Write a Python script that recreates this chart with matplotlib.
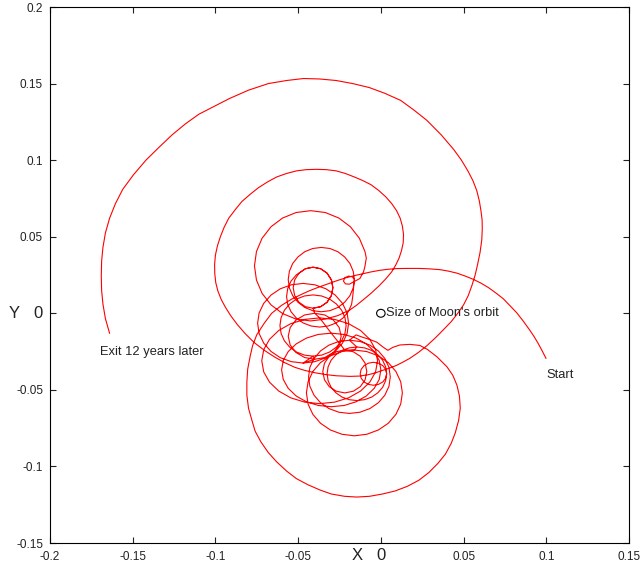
import matplotlib
matplotlib.use("Agg")
import matplotlib.pyplot as plt
from matplotlib.patches import Circle

# positions in AU, rotating frame centred on the Earth
start_x = [0.0998, 0.0975, 0.095, 0.0925, 0.090, 0.086, 0.082, 0.078, 0.074, 0.0695, 0.065, 0.0605,
           0.0558, 0.051, 0.046, 0.041, 0.0357, 0.0295, 0.023, 0.016, 0.0095, 0.004, -0.001, -0.006,
           -0.0107, -0.016, -0.021, -0.026, -0.031, -0.037, -0.043, -0.0485, -0.054, -0.060]
start_y = [-0.0294, -0.0245, -0.0195, -0.015, -0.011, -0.005, 0.0005, 0.005, 0.0095, 0.0133, 0.0168,
           0.0197, 0.0222, 0.0243, 0.0262, 0.0275, 0.0285, 0.029, 0.0293, 0.0293, 0.0292, 0.0287,
           0.028, 0.027, 0.0259, 0.0246, 0.0232, 0.0215, 0.0196, 0.0173, 0.0148, 0.0121, 0.0092, 0.0052]

low_loop_x = [-0.066, -0.0705, -0.075, -0.0775, -0.079, -0.0805, -0.081, -0.081, -0.080, -0.078, -0.076,
              -0.0725, -0.068, -0.063, -0.057, -0.051, -0.044, -0.037, -0.030, -0.022, -0.0145, -0.0068,
              0.001, 0.0087, 0.016, 0.023, 0.029, 0.0345, 0.039, 0.0425, 0.045, 0.047, 0.048, 0.0475,
              0.046, 0.0435, 0.040, 0.034, 0.028, 0.0236, 0.0175, 0.0115, 0.0073, 0.0042, 0.001,
              -0.0024, -0.0065, -0.0109, -0.015]
low_loop_y = [0.000, -0.0065, -0.014, -0.021, -0.028, -0.0365, -0.045, -0.0535, -0.062, -0.0697, -0.077,
              -0.084, -0.091, -0.097, -0.103, -0.108, -0.112, -0.1153, -0.118, -0.1195, -0.120, -0.1195,
              -0.118, -0.116, -0.113, -0.109, -0.104, -0.098, -0.092, -0.085, -0.078, -0.070, -0.062,
              -0.054, -0.047, -0.0405, -0.035, -0.0285, -0.0235, -0.021, -0.0203, -0.0207, -0.0222,
              -0.0242, -0.0218, -0.0189, -0.0172, -0.0157, -0.0141]

# lower cluster
loop_k3_x = [-0.019, -0.0254, -0.0314, -0.0365, -0.0404, -0.0429, -0.0437, -0.0429, -0.0404, -0.0365,
             -0.0314, -0.0254, -0.019, -0.0126, -0.0066, -0.0015, 0.0024, 0.0049, 0.0057, 0.0049,
             0.0024, -0.0015, -0.0066, -0.0126, -0.019]
loop_k3_y = [-0.0176, -0.0184, -0.0208, -0.0246, -0.0295, -0.0353, -0.0415, -0.0477, -0.0535, -0.0584,
             -0.0622, -0.0646, -0.0654, -0.0646, -0.0622, -0.0584, -0.0535, -0.0477, -0.0415, -0.0353,
             -0.0295, -0.0246, -0.0208, -0.0184, -0.0176]

loop_k2_x = [-0.0145, -0.0192, -0.0235, -0.0272, -0.0301, -0.0319, -0.0325, -0.0319, -0.0301, -0.0272,
             -0.0235, -0.0192, -0.0145, -0.0098, -0.0055, -0.0018, 0.0011, 0.0029, 0.0035,
             0.0029, 0.0012, -0.0014, -0.0045, -0.0076, -0.0102, -0.0119, -0.0125, -0.0119, -0.0102,
             -0.0076, -0.0045, -0.0014, 0.0012, 0.0029, 0.0035,
             0.0029, 0.0011, -0.0018, -0.0055, -0.0098, -0.0145]
loop_k2_y = [-0.022, -0.0226, -0.0243, -0.0271, -0.0307, -0.035, -0.0395, -0.044, -0.0483, -0.0519,
             -0.0547, -0.0564, -0.057, -0.0564, -0.0547, -0.0519, -0.0483, -0.044, -0.0395,
             -0.0366, -0.0342, -0.0326, -0.032, -0.0326, -0.0342, -0.0366, -0.0395, -0.0424, -0.0448,
             -0.0464, -0.047, -0.0464, -0.0448, -0.0424, -0.0395,
             -0.035, -0.0307, -0.0271, -0.0243, -0.0226, -0.022]

loop_m_x = [-0.016, -0.0235, -0.0305, -0.0365, -0.0411, -0.044, -0.045, -0.044, -0.0411, -0.0365, -0.0305,
            -0.0235, -0.016, -0.0085, -0.0015, 0.0045, 0.0091, 0.012, 0.013, 0.012, 0.0091, 0.0045,
            -0.0015, -0.0085, -0.016]
loop_m_y = [-0.024, -0.025, -0.0278, -0.0322, -0.038, -0.0447, -0.052, -0.0593, -0.066, -0.0718, -0.0762,
            -0.079, -0.080, -0.079, -0.0762, -0.0718, -0.066, -0.0593, -0.052, -0.0447, -0.038, -0.0322,
            -0.0278, -0.025, -0.024]

loop_k1_x = [-0.0218, -0.0269, -0.0312, -0.0341, -0.0351, -0.0341, -0.0312, -0.0269, -0.0218, -0.0167,
             -0.0124, -0.0095, -0.0085, -0.0095, -0.0124, -0.0167, -0.0218]
loop_k1_y = [-0.024, -0.0251, -0.0281, -0.0326, -0.038, -0.0434, -0.0479, -0.0509, -0.052, -0.0509,
             -0.0479, -0.0434, -0.038, -0.0326, -0.0281, -0.0251, -0.024]

loop_l_x = [-0.030, -0.0378, -0.045, -0.0512, -0.056, -0.059, -0.060, -0.059, -0.056, -0.0512, -0.045,
            -0.0378, -0.030, -0.0222, -0.015, -0.0088, -0.004, -0.001, 0.000, -0.001, -0.004, -0.0088,
            -0.015, -0.0222, -0.030]
loop_l_y = [-0.013, -0.0138, -0.0162, -0.020, -0.025, -0.0308, -0.037, -0.0432, -0.049, -0.054, -0.0578,
            -0.0602, -0.061, -0.0602, -0.0578, -0.054, -0.049, -0.0432, -0.037, -0.0308, -0.025, -0.020,
            -0.0162, -0.0138, -0.013]

loop_p_x = [-0.037, -0.0461, -0.0545, -0.0617, -0.0673, -0.0708, -0.072, -0.0708, -0.0673, -0.0617,
            -0.0545, -0.0461, -0.037, -0.0279, -0.0195, -0.0123, -0.0067, -0.0032, -0.002, -0.0032,
            -0.0067, -0.0123, -0.0195, -0.0279, -0.037]
loop_p_y = [-0.003, -0.004, -0.0068, -0.0112, -0.017, -0.0237, -0.031, -0.0383, -0.045, -0.0508,
            -0.0552, -0.058, -0.059, -0.058, -0.0552, -0.0508, -0.045, -0.0383, -0.031, -0.0237,
            -0.017, -0.0112, -0.0068, -0.004, -0.003]

# middle cluster
loop_t_left_x = [-0.040, -0.0461, -0.0513, -0.0548, -0.056, -0.0548, -0.0513, -0.0461, -0.040]
loop_t_left_y = [0.000, -0.0011, -0.0044, -0.0093, -0.015, -0.0207, -0.0256, -0.0289, -0.030]

loop_r_x = [-0.041, -0.0358, -0.031, -0.0269, -0.0237, -0.0217, -0.021, -0.0217, -0.0237, -0.0269,
            -0.031, -0.0358, -0.041, -0.0462, -0.051, -0.0551, -0.0583, -0.0603, -0.061, -0.0603,
            -0.0583, -0.0551, -0.051, -0.0462, -0.041]
loop_r_y = [-0.028, -0.0273, -0.0253, -0.0221, -0.018, -0.0132, -0.008, -0.0028, 0.002, 0.0061, 0.0093,
            0.0113, 0.012, 0.0113, 0.0093, 0.0061, 0.002, -0.0028, -0.008, -0.0132, -0.018, -0.0221,
            -0.0253, -0.0273, -0.028]

loop_q_x = [-0.047, -0.0399, -0.0332, -0.0276, -0.0232, -0.0204, -0.0195, -0.0204, -0.0232, -0.0276,
            -0.0332, -0.0399, -0.047, -0.0541, -0.0608, -0.0664, -0.0708, -0.0736, -0.0745, -0.0736,
            -0.0708, -0.0664, -0.0608, -0.0541, -0.047]
loop_q_y = [-0.0325, -0.0316, -0.029, -0.0249, -0.0195, -0.0132, -0.0065, 0.0002, 0.0065, 0.0119, 0.016,
            0.0186, 0.0195, 0.0186, 0.016, 0.0119, 0.0065, 0.0002, -0.0065, -0.0132, -0.0195, -0.0249,
            -0.029, -0.0316, -0.0325]

loop_t_right_x = [-0.040, -0.0339, -0.0287, -0.0252, -0.024, -0.0252, -0.0287, -0.0339, -0.040]
loop_t_right_y = [-0.030, -0.0289, -0.0256, -0.0207, -0.015, -0.0093, -0.0044, -0.0011, 0.000]

# upper cluster
loop_g_x = [-0.041, -0.0364, -0.0325, -0.0299, -0.029, -0.0299, -0.0325, -0.0364, -0.041, -0.0456,
            -0.0495, -0.0521, -0.053, -0.0521, -0.0495, -0.0456, -0.041, -0.0364, -0.0325, -0.0299,
            -0.029, -0.0299, -0.0325, -0.0364, -0.041, -0.0456, -0.0495]
loop_g_y = [0.0033, 0.0043, 0.0072, 0.0116, 0.0167, 0.0218, 0.0262, 0.0291, 0.0301, 0.0291, 0.0262,
            0.0218, 0.0167, 0.0116, 0.0072, 0.0043, 0.0033, 0.0043, 0.0072, 0.0116, 0.0167, 0.0218,
            0.0262, 0.0291, 0.0301, 0.0291, 0.0262]

loop_u_x = [-0.0511, -0.0543, -0.0563, -0.057, -0.0563, -0.0543, -0.0511, -0.047, -0.0422, -0.037,
            -0.0318, -0.027, -0.0229, -0.0197, -0.0177, -0.017, -0.0165]
loop_u_y = [0.0251, 0.021, 0.0162, 0.011, 0.0058, 0.001, -0.0031, -0.0063, -0.0083, -0.009, -0.0083,
            -0.0063, -0.0031, 0.001, 0.0058, 0.011, 0.0165]

loop_f_x = [-0.016, -0.0167, -0.0187, -0.0219, -0.026, -0.0308, -0.036, -0.0412, -0.046, -0.0501,
            -0.0533, -0.0553, -0.056, -0.0553, -0.0533, -0.0501, -0.046, -0.0412, -0.036, -0.0308,
            -0.026, -0.0219, -0.0187, -0.0167, -0.016]
loop_f_y = [0.022, 0.0274, 0.0325, 0.0368, 0.0402, 0.0423, 0.043, 0.0423, 0.0402, 0.0368, 0.0325,
            0.0274, 0.022, 0.0166, 0.0115, 0.0072, 0.0038, 0.0017, 0.001, 0.0017, 0.0038, 0.0072,
            0.0115, 0.0166, 0.022]

curl_x = [-0.0172, -0.0195, -0.0218, -0.0226, -0.0214, -0.019, -0.0167, -0.0127, -0.0105, -0.0097,
          -0.0088]
curl_y = [0.0238, 0.0243, 0.0232, 0.021, 0.0192, 0.019, 0.0204, 0.0227, 0.027, 0.0302, 0.036]

loop_e_x = [-0.0096, -0.013, -0.0184, -0.0254, -0.0336, -0.0424, -0.0512, -0.0594, -0.0664, -0.0718,
            -0.0752, -0.0764, -0.0752, -0.0718, -0.0664, -0.0594, -0.0512, -0.0424, -0.0336, -0.026]
loop_e_y = [0.0403, 0.049, 0.0565, 0.0622, 0.0658, 0.067, 0.0658, 0.0622, 0.0565, 0.049, 0.0403, 0.031,
            0.0217, 0.013, 0.0055, -0.0002, -0.0038, -0.005, -0.0038, -0.0015]

# wide loop round the cluster, then out
mid_loop_x = [-0.019, -0.015, -0.011, -0.006, -0.001, 0.003, 0.0065, 0.009, 0.011, 0.0125, 0.0135,
              0.0137, 0.013, 0.0117, 0.0095, 0.0065, 0.003, -0.0013, -0.006, -0.011, -0.016, -0.0215,
              -0.027, -0.033, -0.039, -0.045, -0.051, -0.057, -0.063, -0.0685, -0.074, -0.079, -0.084,
              -0.088, -0.092, -0.0948, -0.097, -0.0988, -0.100, -0.1005, -0.1004, -0.0998, -0.0985,
              -0.0965, -0.094, -0.0908, -0.0868, -0.082, -0.0765, -0.070, -0.064, -0.058, -0.052,
              -0.046, -0.040, -0.0335, -0.027, -0.0187, -0.013, -0.008, -0.0035, 0.0012, 0.0055,
              0.0095, 0.0135, 0.0175, 0.0228, 0.028, 0.033, 0.0375, 0.0425, 0.0465, 0.050, 0.0528,
              0.055, 0.057, 0.0585, 0.060, 0.061]
mid_loop_y = [0.002, 0.005, 0.0085, 0.013, 0.018, 0.0225, 0.027, 0.0315, 0.036, 0.041, 0.046, 0.0515,
              0.057, 0.062, 0.067, 0.0717, 0.076, 0.0802, 0.084, 0.0867, 0.089, 0.0913, 0.093, 0.0938,
              0.094, 0.0938, 0.093, 0.0913, 0.089, 0.0858, 0.082, 0.0777, 0.073, 0.0677, 0.062, 0.056,
              0.050, 0.044, 0.038, 0.032, 0.026, 0.020, 0.0145, 0.009, 0.004, -0.0015, -0.0073,
              -0.0133, -0.0192, -0.0245, -0.0287, -0.0323, -0.0353, -0.0373, -0.0388, -0.040, -0.0408,
              -0.0412, -0.041, -0.0402, -0.039, -0.0372, -0.0357, -0.034, -0.0318, -0.0294, -0.0255,
              -0.021, -0.016, -0.0111, -0.0055, 0.000, 0.0055, 0.0115, 0.018, 0.025, 0.032, 0.040, 0.048]

exit_x = [0.0613, 0.0612, 0.0605, 0.0595, 0.058, 0.0557, 0.0526, 0.0487, 0.044, 0.0365, 0.0278, 0.020,
          0.012, 0.0025, -0.007, -0.017, -0.027, -0.037, -0.0467, -0.057, -0.068, -0.080, -0.0914,
          -0.101, -0.110, -0.118, -0.126, -0.134, -0.142, -0.1495, -0.156, -0.1605, -0.164, -0.1665,
          -0.168, -0.1688, -0.169, -0.1688, -0.168, -0.1665, -0.164]
exit_y = [0.055, 0.061, 0.067, 0.0735, 0.080, 0.0865, 0.093, 0.100, 0.107, 0.1165, 0.126, 0.1327,
          0.139, 0.1436, 0.1474, 0.150, 0.152, 0.153, 0.1533, 0.152, 0.150, 0.1457, 0.1403, 0.135,
          0.130, 0.1238, 0.1167, 0.1085, 0.100, 0.0905, 0.081, 0.0715, 0.062, 0.0525, 0.043, 0.034,
          0.0244, 0.015, 0.006, -0.0035, -0.013]

pieces = [(start_x, start_y), (low_loop_x, low_loop_y), (loop_k3_x, loop_k3_y), (loop_k2_x, loop_k2_y),
          (loop_m_x, loop_m_y), (loop_k1_x, loop_k1_y), (loop_l_x, loop_l_y), (loop_p_x, loop_p_y),
          (loop_t_left_x, loop_t_left_y), (loop_r_x, loop_r_y), (loop_q_x, loop_q_y),
          (loop_t_right_x, loop_t_right_y), (loop_g_x, loop_g_y), (loop_u_x, loop_u_y),
          (loop_f_x, loop_f_y), (curl_x, curl_y), (loop_e_x, loop_e_y),
          (mid_loop_x, mid_loop_y), (exit_x, exit_y)]
traj_x = []
traj_y = []
for px, py in pieces:
    traj_x += px
    traj_y += py

moon_orbit = 0.00257  # AU
xticks = [-0.2, -0.15, -0.1, -0.05, 0, 0.05, 0.1, 0.15]
xlabels = ['-0.2', '-0.15', '-0.1', '-0.05', '', '0.05', '0.1', '0.15']
yticks = [-0.15, -0.1, -0.05, 0, 0.05, 0.1, 0.15, 0.2]
ylabels = ['-0.15', '-0.1', '-0.05', '', '0.05', '0.1', '0.15', '0.2']

plt.rcParams['font.family'] = ['Liberation Sans', 'DejaVu Sans']
fig = plt.figure(figsize=(6.44, 5.69), dpi=100)
ax = fig.add_axes([50 / 644, 26 / 569, 579 / 644, 536 / 569])

ax.plot(traj_x, traj_y, color='#ff0000', linewidth=0.8, solid_joinstyle='round')
ax.add_patch(Circle((0, 0), moon_orbit, fill=False, edgecolor='black', linewidth=0.8))

ax.set_xlim(-0.2, 0.15)
ax.set_ylim(-0.15, 0.2)
ax.set_xticks(xticks)
ax.set_xticklabels(xlabels)
ax.set_yticks(yticks)
ax.set_yticklabels(ylabels)
ax.tick_params(direction='in', length=4, width=0.8, top=True, right=True,
               labelsize=8.5, colors='#222222')
ax.tick_params(axis='x', pad=6)
ax.tick_params(axis='y', pad=5)
for s in ax.spines.values():
    s.set_linewidth(0.8)

txt = dict(fontsize=9.3, color='#222222', va='center')
ax.text(0.0998, -0.0405, 'Start', ha='left', **txt)
ax.text(-0.170, -0.0255, 'Exit 12 years later', ha='left', **txt)
ax.text(0.003, 0.0, "Size of Moon's orbit", ha='left', **txt)

big = dict(fontsize=12, color='#222222', va='center', ha='center', clip_on=False)
ax.text(-0.0145, -0.158, 'X', **big)
ax.text(0.0, -0.158, '0', **big)
ax.text(-0.2219, 0.0, 'Y', **big)
ax.text(-0.2074, 0.0, '0', **big)

fig.savefig('out.png', dpi=100)
